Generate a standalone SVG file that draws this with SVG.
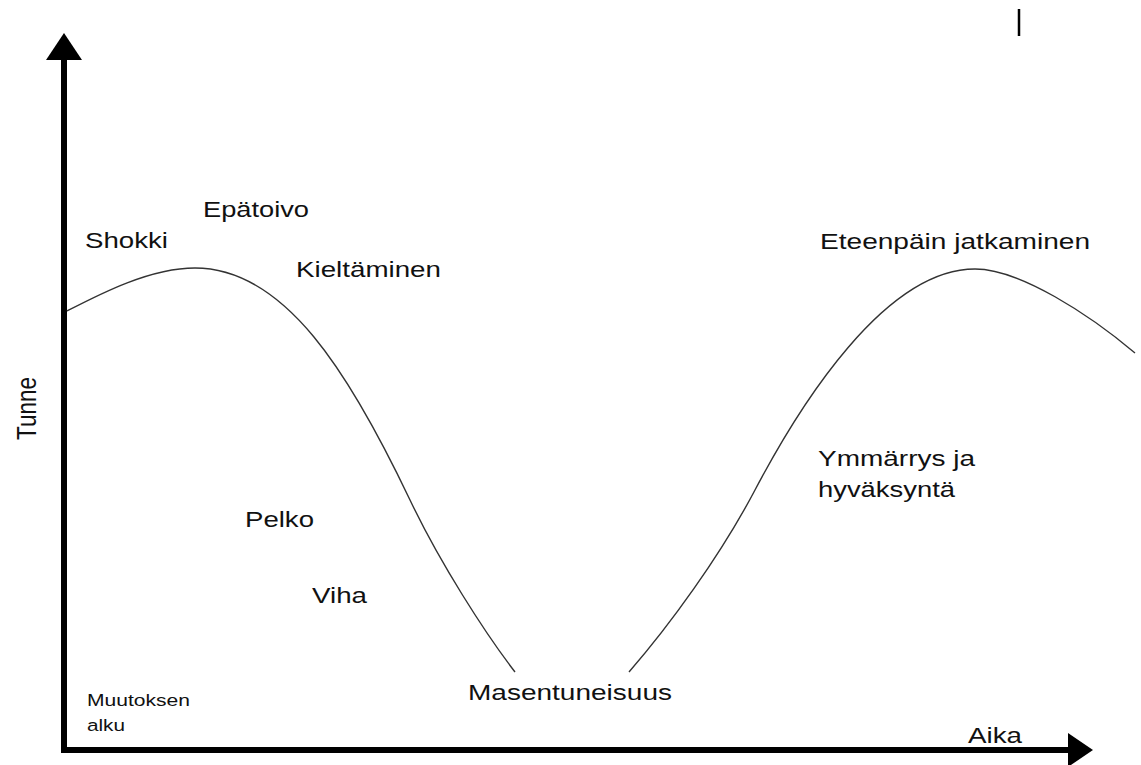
<svg xmlns="http://www.w3.org/2000/svg" width="1141" height="765" viewBox="0 0 1141 765">
<style>
.lbl{font-family:"Liberation Sans",Arial,Helvetica,sans-serif;font-size:22.5px;fill:#111}
.sm{font-family:"Liberation Sans",Arial,Helvetica,sans-serif;font-size:16.7px;fill:#111}
.curve{fill:none;stroke:#333;stroke-width:1.4}
.axis{stroke:#000;stroke-width:6;fill:none}
</style>
<rect width="1141" height="765" fill="#fff"/>
<g id="axes">
<line class="axis" x1="64" y1="58" x2="64" y2="753"/>
<polygon points="64,33 46,60 82,60" fill="#000"/>
<line class="axis" x1="61" y1="750" x2="1070" y2="750"/>
<polygon points="1068,733 1093,750 1068,767" fill="#000"/>
<line x1="1019" y1="9" x2="1019" y2="36" stroke="#000" stroke-width="2.5"/>
</g>
<g id="connectors">
<path class="curve" d="M67 311 C100 294,150 268,195 268 C285 268,350 374,410 500 C440 563,485 633,515 672"/>
<path class="curve" d="M629 672 C669 626,720 556.5,755 490 C800 404.5,885 269,975 269 C1020 269,1090 315,1135 353"/>
</g>
<g id="labels">
<text class="lbl" x="85" y="248" textLength="83" lengthAdjust="spacingAndGlyphs">Shokki</text>
<text class="lbl" x="203" y="217" textLength="106" lengthAdjust="spacingAndGlyphs">Epätoivo</text>
<text class="lbl" x="296" y="277" textLength="145" lengthAdjust="spacingAndGlyphs">Kieltäminen</text>
<text class="lbl" x="820" y="249" textLength="270" lengthAdjust="spacingAndGlyphs">Eteenpäin jatkaminen</text>
<text class="lbl" x="818" y="466" textLength="157" lengthAdjust="spacingAndGlyphs">Ymmärrys ja</text>
<text class="lbl" x="818" y="497" textLength="137" lengthAdjust="spacingAndGlyphs">hyväksyntä</text>
<text class="lbl" x="245" y="527" textLength="69" lengthAdjust="spacingAndGlyphs">Pelko</text>
<text class="lbl" x="312" y="603" textLength="55" lengthAdjust="spacingAndGlyphs">Viha</text>
<text class="lbl" x="468" y="700" textLength="204" lengthAdjust="spacingAndGlyphs">Masentuneisuus</text>
<text class="lbl" x="968" y="743" textLength="54" lengthAdjust="spacingAndGlyphs">Aika</text>
<text class="sm" x="87" y="706" textLength="103" lengthAdjust="spacingAndGlyphs">Muutoksen</text>
<text class="sm" x="87" y="731" textLength="38" lengthAdjust="spacingAndGlyphs">alku</text>
<text class="lbl" transform="translate(36,440) scale(1.26,1) rotate(-90)" x="0" y="0">Tunne</text>
</g>
</svg>
